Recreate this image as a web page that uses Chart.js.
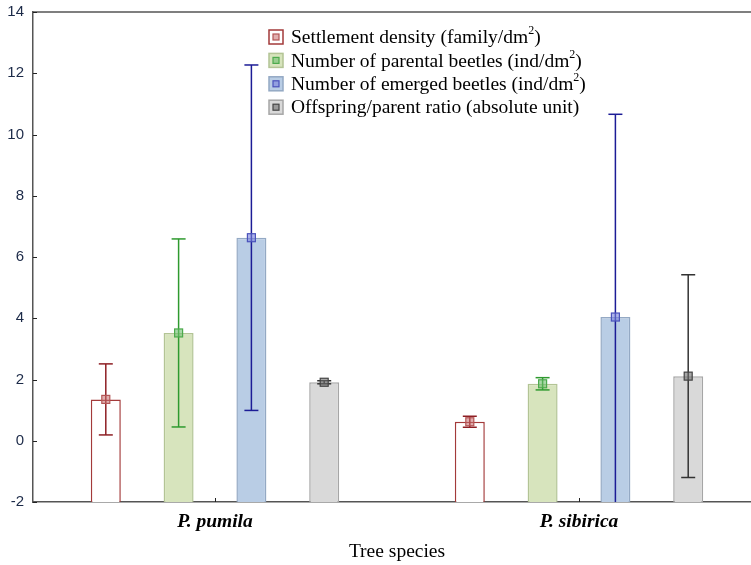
<!DOCTYPE html>
<html>
<head>
<meta charset="utf-8">
<script src="https://cdn.jsdelivr.net/npm/chart.js@4/dist/chart.umd.min.js"></script>
<style>
html,body{margin:0;padding:0;overflow:hidden;background:#fff}
</style>
</head>
<body>
<canvas id="mychart" width="761" height="565"></canvas>
<script>
// values
const species=['P. pumila','P. sibirica'];
const seriesNames=['Settlement density (family/dm²)','Number of parental beetles (ind/dm²)','Number of emerged beetles (ind/dm²)','Offspring/parent ratio (absolute unit)'];
const density=[1.35,0.62];
const densityErr=[1.16,0.18];
const parental=[3.52,1.86];
const parentalErr=[3.07,0.2];
const emerged=[6.63,4.04];
const emergedErr=[5.64,6.62];
const ratio=[1.91,2.11];
const ratioErr=[0.05,3.31];
const yTicks=[-2,0,2,4,6,8,10,12,14];

// styles
const fills=['#ffffff','#d7e4bd','#b9cde5','#d9d9d9'];
const borders=['#a33a3a','#b3c495','#94a9c4','#a6a6a6'];
const errColors=['#8e1f24','#2e9a2e','#1c1c96','#333333'];
const markFill=['rgba(200,110,110,0.55)','rgba(110,190,110,0.6)','rgba(120,130,220,0.6)','rgba(110,110,110,0.6)'];
const markLine=['#b35555','#4caa4c','#4a52bb','#444444'];
const errs=[densityErr,parentalErr,emergedErr,ratioErr];
const serif="'Liberation Serif', 'Times New Roman', serif";

function line(ctx,x1,y1,x2,y2){ctx.beginPath();ctx.moveTo(x1,y1);ctx.lineTo(x2,y2);ctx.stroke();}

const extras={
  id:'extras',
  afterDatasetsDraw(chart){
    const {ctx,chartArea:a,scales:{x,y}}=chart;
    ctx.save();
    ctx.strokeStyle='#555';ctx.lineWidth=1.5;
    line(ctx,a.left,a.top,a.right,a.top);
    ctx.lineWidth=1;ctx.strokeStyle='#222';
    yTicks.forEach(v=>{const py=Math.round(y.getPixelForValue(v))+0.5;line(ctx,a.left,py,a.left+4,py);});
    species.forEach((s,i)=>{const px=Math.round(x.getPixelForValue(i))+0.5;line(ctx,px,a.bottom,px,a.bottom-4);});
    ctx.beginPath();ctx.rect(a.left,a.top,a.right-a.left,a.bottom-a.top);ctx.clip();
    chart.data.datasets.forEach((ds,di)=>{
      chart.getDatasetMeta(di).data.forEach((bar,j)=>{
        const m=ds.data[j],e=errs[di][j];
        const px=bar.x,hi=y.getPixelForValue(m+e),lo=y.getPixelForValue(m-e);
        ctx.strokeStyle=errColors[di];ctx.lineWidth=1.5;
        line(ctx,px,hi,px,lo);
        line(ctx,px-7,hi,px+7,hi);
        line(ctx,px-7,lo,px+7,lo);
        ctx.fillStyle=markFill[di];ctx.strokeStyle=markLine[di];ctx.lineWidth=1.2;
        ctx.fillRect(px-4,bar.y-4,8,8);ctx.strokeRect(px-4,bar.y-4,8,8);
      });
    });
    ctx.restore();
  },
  afterDraw(chart){
    const ctx=chart.ctx;
    ctx.save();
    const bx=269,tx=291,y0=37,dy=23.4;
    seriesNames.forEach((name,i)=>{
      const cy=y0+i*dy;
      ctx.fillStyle=fills[i];ctx.strokeStyle=borders[i];ctx.lineWidth=1.5;
      ctx.fillRect(bx,cy-7,14,14);ctx.strokeRect(bx,cy-7,14,14);
      ctx.fillStyle=markFill[i];ctx.strokeStyle=markLine[i];ctx.lineWidth=1.2;
      ctx.fillRect(bx+4,cy-3,6,6);ctx.strokeRect(bx+4,cy-3,6,6);
      ctx.fillStyle='#000';ctx.textBaseline='middle';ctx.textAlign='left';
      const parts=name.split('²');
      ctx.font='19.5px '+serif;
      let cx=tx;
      ctx.fillText(parts[0],cx,cy+1);
      if(parts.length>1){
        cx+=ctx.measureText(parts[0]).width;
        ctx.font='12px '+serif;
        ctx.fillText('2',cx,cy-6);
        cx+=ctx.measureText('2').width;
        ctx.font='19.5px '+serif;
        ctx.fillText(parts[1],cx,cy+1);
      }
    });
    ctx.restore();
  }
};

const canvas=document.getElementById('mychart');
const sets=[density,parental,emerged,ratio].map((d,i)=>({
  label:seriesNames[i],
  data:d,
  base:-2,
  backgroundColor:fills[i],
  borderColor:borders[i],
  borderWidth:1.5,
  borderSkipped:'bottom'
}));
new Chart(canvas,{
  type:'bar',
  data:{labels:species,datasets:sets},
  options:{
    responsive:false,
    animation:false,
    devicePixelRatio:1,
    layout:{padding:{top:12,right:0,left:0,bottom:0}},
    datasets:{bar:{categoryPercentage:0.8,barPercentage:0.412}},
    plugins:{legend:{display:false},tooltip:{enabled:false}},
    scales:{
      x:{
        grid:{display:false,drawTicks:false},
        border:{color:'#555',width:1.5},
        ticks:{color:'#000',padding:8,font:{family:serif,size:19.5,weight:'bold',style:'italic'}},
        title:{display:true,text:'Tree species',color:'#000',padding:{top:0,bottom:1},font:{family:serif,size:19.5}},
        afterFit(s){s.height=63;s.paddingLeft=0;s.paddingRight=0;}
      },
      y:{
        min:-2,max:14,
        grid:{display:false,drawTicks:false},
        border:{color:'#555',width:1.5},
        ticks:{stepSize:2,color:'#1c2a48',padding:9,font:{family:"'Liberation Sans', Arial, sans-serif",size:15}},
        afterFit(s){s.width=33;s.paddingTop=0;s.paddingBottom=0;}
      }
    }
  },
  plugins:[extras]
});
</script>
</body>
</html>
